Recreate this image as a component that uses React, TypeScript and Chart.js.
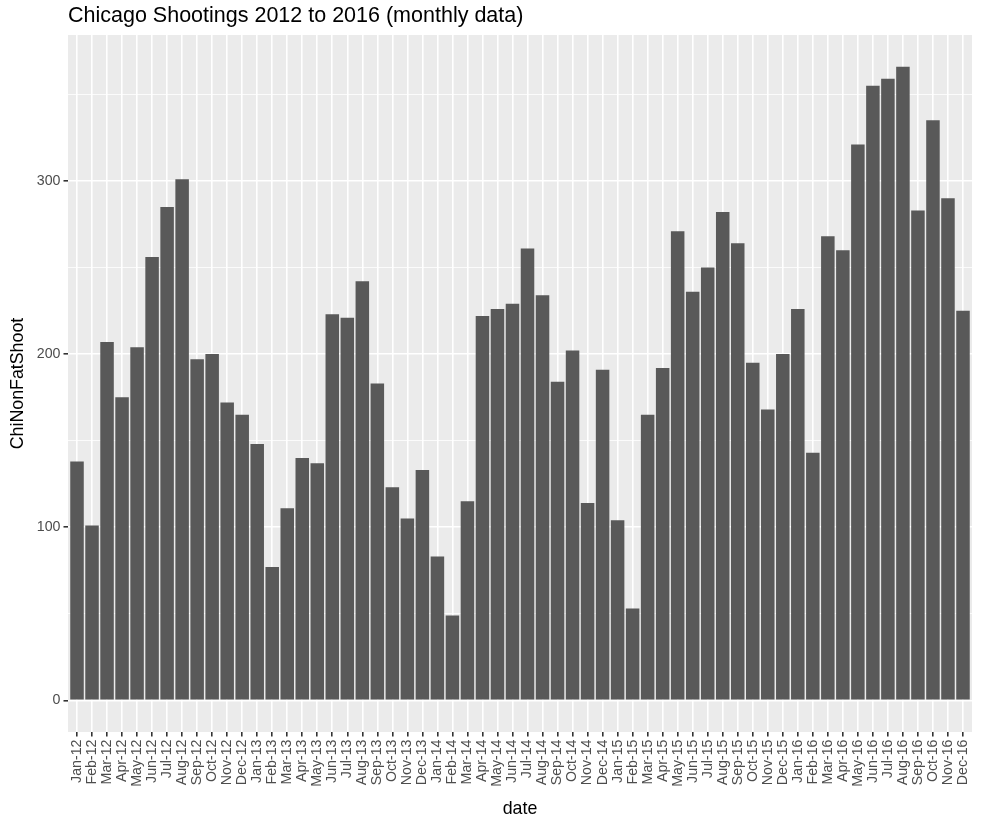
import { useEffect, useRef } from 'react';
import { Chart, registerables } from 'chart.js';

Chart.register(...registerables);

const months = [
  'Jan-12', 'Feb-12', 'Mar-12', 'Apr-12', 'May-12', 'Jun-12', 'Jul-12', 'Aug-12', 'Sep-12', 'Oct-12', 'Nov-12', 'Dec-12',
  'Jan-13', 'Feb-13', 'Mar-13', 'Apr-13', 'May-13', 'Jun-13', 'Jul-13', 'Aug-13', 'Sep-13', 'Oct-13', 'Nov-13', 'Dec-13',
  'Jan-14', 'Feb-14', 'Mar-14', 'Apr-14', 'May-14', 'Jun-14', 'Jul-14', 'Aug-14', 'Sep-14', 'Oct-14', 'Nov-14', 'Dec-14',
  'Jan-15', 'Feb-15', 'Mar-15', 'Apr-15', 'May-15', 'Jun-15', 'Jul-15', 'Aug-15', 'Sep-15', 'Oct-15', 'Nov-15', 'Dec-15',
  'Jan-16', 'Feb-16', 'Mar-16', 'Apr-16', 'May-16', 'Jun-16', 'Jul-16', 'Aug-16', 'Sep-16', 'Oct-16', 'Nov-16', 'Dec-16',
];

const shootings2012 = [138, 101, 207, 175, 204, 256, 285, 301, 197, 200, 172, 165];
const shootings2013 = [148, 77, 111, 140, 137, 223, 221, 242, 183, 123, 105, 133];
const shootings2014 = [83, 49, 115, 222, 226, 229, 261, 234, 184, 202, 114, 191];
const shootings2015 = [104, 53, 165, 192, 271, 236, 250, 282, 264, 195, 168, 200];
const shootings2016 = [226, 143, 268, 260, 321, 355, 359, 366, 283, 335, 290, 225];

const shootings = [
  ...shootings2012,
  ...shootings2013,
  ...shootings2014,
  ...shootings2015,
  ...shootings2016,
];

// major (labelled) and minor y grid values
const yLabelValues = [0, 100, 200, 300];
const yMinorValues = [50, 150, 250, 350];
const TITLE = 'Chicago Shootings 2012 to 2016 (monthly data)';
const X_TITLE = 'date';
const Y_TITLE = 'ChiNonFatShoot';

const FONT = '"Liberation Sans", Arial, Helvetica, sans-serif';

export default function App() {
  const ref = useRef<HTMLCanvasElement>(null);

  useEffect(() => {
    document.body.style.margin = '0';
    const W = 981;
    const H = 818;
    const canvas = ref.current;
    if (!canvas) return;

    const ggPlugin = {
      id: 'ggTheme',
      beforeDraw(chart: any) {
        const { ctx, chartArea: a } = chart;
        ctx.save();
        ctx.fillStyle = '#ffffff';
        ctx.fillRect(0, 0, W, H);
        ctx.fillStyle = '#EBEBEB';
        ctx.fillRect(a.left, a.top, a.right - a.left, a.bottom - a.top);
        ctx.restore();
      },
      afterDraw(chart: any) {
        const { ctx, chartArea: a } = chart;
        ctx.save();
        ctx.fillStyle = '#000000';
        ctx.font = `21.5px ${FONT}`;
        ctx.textAlign = 'left';
        ctx.textBaseline = 'alphabetic';
        ctx.fillText(TITLE, a.left, 22);

        ctx.font = `17.8px ${FONT}`;
        ctx.textAlign = 'center';
        ctx.textBaseline = 'alphabetic';
        ctx.fillText(X_TITLE, (a.left + a.right) / 2, 814);

        ctx.textBaseline = 'middle';
        ctx.translate(18.5, (a.top + a.bottom) / 2);
        ctx.rotate(-Math.PI / 2);
        ctx.fillText(Y_TITLE, 0, 0);
        ctx.restore();
      },
    };

    const allY = [...yLabelValues, ...yMinorValues].sort((p, q) => p - q);
    const isMajor = (v: number) => yLabelValues.includes(v);

    const chart = new Chart(canvas, {
      type: 'bar',
      data: {
        datasets: [
          {
            data: shootings.map((v, i) => ({ x: i, y: v })),
            backgroundColor: '#595959',
            borderWidth: 0,
            barPercentage: 0.9,
            categoryPercentage: 1,
          },
        ],
      },
      options: {
        responsive: false,
        animation: false,
        layout: { padding: { top: 35, right: 9, left: 0, bottom: 0 } },
        plugins: {
          legend: { display: false },
          tooltip: { enabled: false },
          title: { display: false },
        },
        scales: {
          x: {
            type: 'linear',
            bounds: 'data',
            min: -0.6,
            max: months.length - 1 + 0.6,
            offset: false,
            afterBuildTicks(s: any) {
              s.ticks = months.map((_, i) => ({ value: i }));
            },
            afterFit(s: any) {
              s.height = 86;
              s.paddingLeft = 0;
              s.paddingRight = 0;
            },
            ticks: {
              autoSkip: false,
              minRotation: 90,
              maxRotation: 90,
              padding: 3,
              color: '#4D4D4D',
              font: { family: FONT, size: 14.2 },
              callback: (v: any) => months[Math.round(Number(v))] ?? '',
            },
            grid: {
              offset: false,
              color: '#ffffff',
              lineWidth: 1.6,
              tickColor: '#333333',
              tickLength: 4.5,
              drawTicks: true,
            },
            border: { display: false },
          },
          y: {
            type: 'linear',
            bounds: 'data',
            min: -18.3,
            max: 384.3,
            afterBuildTicks(s: any) {
              s.ticks = allY.map((v) => ({ value: v }));
            },
            afterFit(s: any) {
              s.width = 68;
              s.paddingTop = 0;
              s.paddingBottom = 0;
            },
            ticks: {
              autoSkip: false,
              padding: 3,
              color: '#4D4D4D',
              font: { family: FONT, size: 14.2 },
              callback: (v: any) => (isMajor(Number(v)) ? String(v) : ''),
            },
            grid: {
              color: '#ffffff',
              lineWidth: (c: any) => (c.tick && isMajor(c.tick.value) ? 1.6 : 0.8),
              tickColor: (c: any) => (c.tick && isMajor(c.tick.value) ? '#333333' : 'rgba(0,0,0,0)'),
              tickLength: 4.5,
              drawTicks: true,
            },
            border: { display: false },
          },
        },
      } as any,
      plugins: [ggPlugin],
    });

    return () => chart.destroy();
  }, []);

  return <canvas ref={ref} width={981} height={818} style={{ display: 'block' }} />;
}
